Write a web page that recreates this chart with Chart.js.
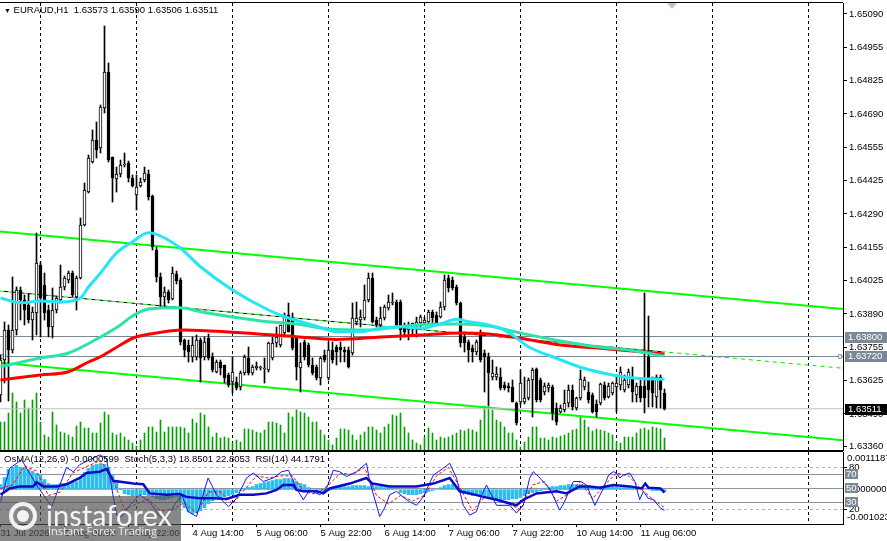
<!DOCTYPE html>
<html>
<head>
<meta charset="utf-8">
<script src="https://cdn.jsdelivr.net/npm/chart.js"></script>
<style>
  html, body { margin: 0; padding: 0; background: #fff; }
  #wrap { position: relative; width: 887px; height: 541px; overflow: hidden; font-family: 'Liberation Sans', Arial, sans-serif; }
  canvas { position: absolute; left: 0; }
  #main { top: 0; }
  #sub { top: 451px; }
  .hdr { position: absolute; font-size: 9.5px; color: #000; white-space: pre; }
  #shift { position: absolute; left: 667px; top: 3px; width: 0; height: 0; border-left: 5px solid transparent; border-right: 5px solid transparent; border-top: 6px solid #c4c4c4; }
  #wm { position: absolute; left: 0; top: 496px; width: 181px; height: 45px; background: rgba(80, 80, 80, 0.68); }
  #wm .ring { position: absolute; left: 9px; top: 6px; width: 20px; height: 20px; border: 4px solid #f2f2f2; border-radius: 50%; }
  #wm .dot { position: absolute; left: 17px; top: 14px; width: 12px; height: 12px; background: #f2f2f2; border-radius: 50%; }
  #wm .t1 { position: absolute; left: 46px; top: 4px; font-family: Lato, 'Open Sans', sans-serif; font-size: 29px; line-height: 29px; color: #f4f4f4; }
  #wm .t2 { position: absolute; left: 48px; top: 28px; font-family: 'Open Sans', sans-serif; font-size: 11px; line-height: 13px; color: #eeeeee; }
</style>
</head>
<body>
<div id="wrap">
  <canvas id="main" width="887" height="451"></canvas>
  <canvas id="sub" width="887" height="90"></canvas>
  <div class="hdr" style="left:4px; top:4px;"><span style="font-size:7px;">&#9660;</span> EURAUD,H1  1.63573 1.63590 1.63506 1.63511</div>
  <div class="hdr" style="left:4px; top:453px;">OsMA(12,26,9) -0.0000599  Stoch(5,3,3) 18.8501 22.8053  RSI(14) 44.1791</div>
  <div id="shift"></div>
  <div id="wm">
    <div class="ring"></div><div class="dot"></div>
    <div class="t1">instaforex</div>
    <div class="t2">Instant Forex Trading</div>
  </div>
</div>
<script>
// EURAUD H1 bars, 31 Jul 14:00 .. 11 Aug 12:00 (bar index = position in the arrays)
const open = [
  1.63566, 1.63706, 1.63826, 1.63746, 1.63826, 1.63986, 1.63946, 1.63926, 1.63866, 1.63894,
  1.64086, 1.64006, 1.63906, 1.63838, 1.63906, 1.63946, 1.63998, 1.64026, 1.64054, 1.63958,
  1.64034, 1.64246, 1.64378, 1.64498, 1.64586, 1.64554, 1.64714, 1.64858, 1.64518, 1.64430,
  1.64450, 1.64486, 1.64494, 1.64434, 1.64366, 1.64402, 1.64426, 1.64450, 1.64362, 1.64146,
  1.64038, 1.63958, 1.63978, 1.63950, 1.64050, 1.64026, 1.63786, 1.63766, 1.63718, 1.63718,
  1.63786, 1.63718, 1.63794, 1.63718, 1.63658, 1.63698, 1.63686, 1.63646, 1.63618, 1.63618,
  1.63598, 1.63654, 1.63714, 1.63654, 1.63674, 1.63674, 1.63670, 1.63666, 1.63714, 1.63774,
  1.63766, 1.63814, 1.63886, 1.63874, 1.63794, 1.63674, 1.63778, 1.63766, 1.63686, 1.63678,
  1.63634, 1.63726, 1.63634, 1.63746, 1.63758, 1.63758, 1.63746, 1.63746, 1.63734, 1.63858,
  1.63866, 1.63874, 1.63946, 1.64034, 1.63866, 1.63846, 1.63874, 1.63914, 1.63934, 1.63938,
  1.63938, 1.63838, 1.63826, 1.63834, 1.63846, 1.63854, 1.63854, 1.63858, 1.63898, 1.63886,
  1.63878, 1.63918, 1.64034, 1.64026, 1.63998, 1.63934, 1.63798, 1.63778, 1.63754, 1.63738,
  1.63818, 1.63734, 1.63718, 1.63638, 1.63638, 1.63638, 1.63606, 1.63602, 1.63598, 1.63534,
  1.63538, 1.63538, 1.63554, 1.63626, 1.63670, 1.63626, 1.63578, 1.63594, 1.63598, 1.63514,
  1.63498, 1.63506, 1.63534, 1.63586, 1.63514, 1.63554, 1.63598, 1.63578, 1.63566, 1.63530,
  1.63534, 1.63606, 1.63558, 1.63574, 1.63598, 1.63606, 1.63586, 1.63606, 1.63630, 1.63566,
  1.63602, 1.63602, 1.63718, 1.63626, 1.63558, 1.63638, 1.63573
];
const high = [
  1.63726, 1.63858, 1.63846, 1.64038, 1.63998, 1.63998, 1.63966, 1.63970, 1.63918, 1.64214,
  1.64098, 1.64054, 1.63926, 1.63994, 1.63962, 1.64086, 1.64042, 1.64062, 1.64062, 1.64042,
  1.64274, 1.64414, 1.64526, 1.64626, 1.64658, 1.64726, 1.65042, 1.64894, 1.64518, 1.64478,
  1.64506, 1.64534, 1.64502, 1.64446, 1.64446, 1.64434, 1.64478, 1.64466, 1.64366, 1.64158,
  1.64054, 1.63998, 1.63986, 1.64078, 1.64062, 1.64034, 1.63790, 1.63786, 1.63798, 1.63806,
  1.63794, 1.63798, 1.63810, 1.63734, 1.63706, 1.63706, 1.63686, 1.63654, 1.63718, 1.63638,
  1.63662, 1.63726, 1.63758, 1.63686, 1.63698, 1.63682, 1.63714, 1.63778, 1.63798, 1.63838,
  1.63846, 1.63894, 1.63934, 1.63894, 1.63798, 1.63774, 1.63786, 1.63774, 1.63714, 1.63686,
  1.63718, 1.63746, 1.63778, 1.63778, 1.63766, 1.63778, 1.63758, 1.63758, 1.63934, 1.63938,
  1.63906, 1.64006, 1.64054, 1.64054, 1.63878, 1.63918, 1.63926, 1.63966, 1.63974, 1.63946,
  1.63946, 1.63854, 1.63858, 1.63854, 1.63878, 1.63886, 1.63878, 1.63906, 1.63906, 1.63898,
  1.63938, 1.64046, 1.64046, 1.64038, 1.64006, 1.63938, 1.63818, 1.63786, 1.63766, 1.63786,
  1.63826, 1.63746, 1.63734, 1.63706, 1.63678, 1.63674, 1.63618, 1.63614, 1.63626, 1.63538,
  1.63666, 1.63638, 1.63634, 1.63674, 1.63674, 1.63634, 1.63614, 1.63614, 1.63606, 1.63534,
  1.63526, 1.63586, 1.63606, 1.63606, 1.63558, 1.63666, 1.63638, 1.63618, 1.63574, 1.63546,
  1.63614, 1.63618, 1.63614, 1.63618, 1.63646, 1.63678, 1.63646, 1.63670, 1.63678, 1.63614,
  1.63626, 1.63974, 1.63882, 1.63638, 1.63646, 1.63646, 1.63590
];
const low = [
  1.63538, 1.63614, 1.63542, 1.63734, 1.63806, 1.63866, 1.63846, 1.63854, 1.63786, 1.63806,
  1.63798, 1.63866, 1.63798, 1.63794, 1.63894, 1.63934, 1.63986, 1.64014, 1.63958, 1.63906,
  1.64030, 1.64242, 1.64374, 1.64494, 1.64514, 1.64534, 1.64694, 1.64498, 1.64338, 1.64378,
  1.64438, 1.64478, 1.64418, 1.64398, 1.64306, 1.64398, 1.64418, 1.64346, 1.64146, 1.64018,
  1.63918, 1.63918, 1.63934, 1.63946, 1.64010, 1.63766, 1.63718, 1.63698, 1.63698, 1.63706,
  1.63618, 1.63706, 1.63706, 1.63658, 1.63654, 1.63646, 1.63614, 1.63598, 1.63574, 1.63586,
  1.63586, 1.63646, 1.63646, 1.63646, 1.63666, 1.63666, 1.63614, 1.63658, 1.63706, 1.63758,
  1.63758, 1.63798, 1.63818, 1.63746, 1.63626, 1.63578, 1.63706, 1.63678, 1.63646, 1.63626,
  1.63606, 1.63698, 1.63626, 1.63694, 1.63686, 1.63698, 1.63698, 1.63674, 1.63726, 1.63846,
  1.63838, 1.63866, 1.63938, 1.63854, 1.63838, 1.63838, 1.63866, 1.63906, 1.63926, 1.63838,
  1.63786, 1.63798, 1.63786, 1.63806, 1.63798, 1.63838, 1.63846, 1.63854, 1.63854, 1.63846,
  1.63874, 1.63906, 1.63978, 1.63986, 1.63926, 1.63758, 1.63738, 1.63698, 1.63698, 1.63726,
  1.63698, 1.63578, 1.63526, 1.63626, 1.63626, 1.63586, 1.63586, 1.63578, 1.63538, 1.63446,
  1.63526, 1.63530, 1.63546, 1.63478, 1.63538, 1.63538, 1.63566, 1.63578, 1.63466, 1.63446,
  1.63494, 1.63498, 1.63518, 1.63506, 1.63506, 1.63546, 1.63586, 1.63534, 1.63494, 1.63478,
  1.63526, 1.63546, 1.63554, 1.63566, 1.63498, 1.63586, 1.63578, 1.63594, 1.63538, 1.63538,
  1.63538, 1.63494, 1.63518, 1.63518, 1.63514, 1.63514, 1.63506
];
const close = [
  1.63706, 1.63826, 1.63746, 1.63826, 1.63986, 1.63946, 1.63906, 1.63866, 1.63898, 1.64094,
  1.63954, 1.63894, 1.63838, 1.63906, 1.63954, 1.63998, 1.64034, 1.64054, 1.63966, 1.64034,
  1.64246, 1.64386, 1.64514, 1.64586, 1.64546, 1.64718, 1.64858, 1.64506, 1.64434, 1.64450,
  1.64486, 1.64486, 1.64434, 1.64402, 1.64398, 1.64418, 1.64454, 1.64358, 1.64158, 1.64038,
  1.63958, 1.63978, 1.63946, 1.64054, 1.64022, 1.63778, 1.63746, 1.63738, 1.63766, 1.63786,
  1.63714, 1.63778, 1.63714, 1.63666, 1.63698, 1.63674, 1.63634, 1.63606, 1.63658, 1.63594,
  1.63654, 1.63718, 1.63654, 1.63678, 1.63682, 1.63674, 1.63670, 1.63774, 1.63774, 1.63798,
  1.63846, 1.63886, 1.63818, 1.63754, 1.63678, 1.63698, 1.63718, 1.63686, 1.63654, 1.63634,
  1.63714, 1.63706, 1.63746, 1.63706, 1.63738, 1.63746, 1.63738, 1.63678, 1.63874, 1.63874,
  1.63878, 1.63946, 1.64034, 1.63858, 1.63846, 1.63874, 1.63918, 1.63938, 1.63938, 1.63846,
  1.63826, 1.63818, 1.63838, 1.63854, 1.63858, 1.63878, 1.63866, 1.63898, 1.63874, 1.63854,
  1.63918, 1.64026, 1.63994, 1.63994, 1.63934, 1.63774, 1.63774, 1.63746, 1.63738, 1.63778,
  1.63706, 1.63718, 1.63654, 1.63654, 1.63650, 1.63594, 1.63594, 1.63594, 1.63538, 1.63454,
  1.63614, 1.63554, 1.63626, 1.63666, 1.63546, 1.63546, 1.63602, 1.63606, 1.63494, 1.63458,
  1.63514, 1.63534, 1.63586, 1.63518, 1.63554, 1.63630, 1.63626, 1.63546, 1.63498, 1.63498,
  1.63610, 1.63554, 1.63602, 1.63614, 1.63614, 1.63658, 1.63626, 1.63658, 1.63578, 1.63602,
  1.63554, 1.63554, 1.63586, 1.63574, 1.63638, 1.63586, 1.63511
];
const volume = [
  28, 28, 37, 57, 48, 37, 50, 42, 50, 57, 28, 15, 13, 38, 25, 18, 17, 15, 13, 24,
  28, 22, 22, 17, 17, 27, 38, 35, 17, 15, 17, 13, 10, 7, 4, 10, 17, 23, 23, 18,
  30, 18, 23, 23, 23, 23, 22, 17, 31, 27, 37, 35, 23, 13, 17, 12, 13, 12, 7, 10,
  8, 21, 21, 20, 18, 17, 20, 28, 28, 27, 25, 17, 37, 33, 40, 38, 37, 33, 28, 28,
  20, 15, 10, 5, 12, 21, 21, 20, 15, 10, 15, 18, 23, 23, 20, 17, 23, 26, 35, 34,
  37, 23, 17, 10, 7, 5, 13, 22, 17, 10, 13, 12, 13, 15, 17, 20, 19, 21, 20, 18,
  30, 44, 45, 40, 30, 28, 23, 17, 17, 10, 3, 8, 13, 23, 23, 12, 12, 10, 13, 12,
  14, 15, 17, 20, 21, 33, 30, 23, 19, 21, 20, 19, 17, 15, 8, 7, 13, 13, 13, 17,
  21, 22, 20, 23, 22, 21, 12
];
const osma = [
  0.00015, 0.00036, 0.0006,
  0.00066, 0.00072, 0.00066, 0.00066, 0.0006, 0.00054, 0.00048,
  0.00045, 0.0003, 0.00018,
  0.00015, 0.00015, 0.00018, 0.00018, 0.00021, 0.00021, 0.00024,
  0.00036, 0.00051, 0.00063, 0.00072, 0.00075, 0.00078, 0.00075, 0.00066,
  0.00042, 0.00021, 0.00003,
  -0.00012, -0.00015, -0.00018, -0.00018, -0.00015, -0.00015, -0.00018, -0.00021,
  -0.00027, -0.0003, -0.0003, -0.00027, -0.00024, -0.00021,
  -0.00036, -0.00054, -0.00066, -0.00072, -0.00069, -0.00063,
  -0.00054, -0.00042, -0.00033, -0.00027, -0.00024, -0.00021, -0.00018, -0.00015,
  -0.00009, -0.00003, 0.00003, 0.00006, 0.00009,
  0.00015, 0.00018, 0.00021, 0.00024, 0.00027, 0.0003, 0.0003, 0.00033, 0.00033,
  0.0003, 0.00024, 0.00018, 0.00015,
  0.00006, 0, -0.00003, -0.00006, -0.00006, -0.00003,
  0.00006, 0.00009, 0.00009, 0.00009, 0.00009, 0.00012, 0.00012, 0.00012, 0.00012, 0.00009,
  0.00012, 0.00009, 0.00009, 0.00006, 0.00006, 0.00003, 0,
  -0.00009, -0.00012, -0.00015, -0.00015, -0.00015, -0.00012, -0.00009, -0.00006,
  -0.00003, 0, 0.00006,
  0.00012, 0.00015, 0.00015, 0.00009,
  -0.00006, -0.00012, -0.00015, -0.00018, -0.00018, -0.00021, -0.00024, -0.00024,
  -0.00027, -0.00027, -0.0003, -0.0003, -0.0003, -0.00027, -0.00027, -0.00024,
  -0.00018, -0.00012, -0.00009, -0.00006, -0.00003,
  0.00003, 0.00006, 0.00009, 0.00009, 0.00012, 0.00012, 0.00015, 0.00015, 0.00015, 0.00015, 0.00012,
  0.00012, 0.00009, 0.00009, 0.00009, 0.00009, 0.00009, 0.00009, 0.00009, 0.00006,
  0.00006, 0.00006, 0.00006, 0.00003, 0.00003, 0, 0, -0.00003, -0.00003, -0.00003, -0.0000599
];

// moving averages, [bar, price]
const maRed = [[0,1.63626],[10,1.63646],[17,1.63659],[22,1.63698],[25,1.63719],[30,1.63766],[33,1.63793],[37,1.63809],[46,1.63826],[58,1.63817],[74,1.63799],[84,1.63788],[95,1.63798],[105,1.63806],[115,1.63814],[122,1.63810],[130,1.63793],[140,1.63766],[150,1.63753],[160,1.63739],[166,1.63730]];
const maTeal = [[0,1.63679],[10,1.63714],[17,1.63734],[25,1.63798],[30,1.63846],[33,1.63882],[37,1.63910],[45,1.63915],[50,1.63899],[58,1.63878],[67,1.63859],[74,1.63850],[82,1.63830],[92,1.63826],[100,1.63839],[107,1.63849],[115,1.63850],[122,1.63842],[130,1.63814],[140,1.63782],[149,1.63759],[157,1.63746],[166,1.63722]];
const maCyan = [[0,1.63954],[5,1.63935],[10,1.63942],[15,1.63938],[20,1.63954],[22,1.63998],[25,1.64054],[29,1.64134],[33,1.64179],[37,1.64215],[40,1.64202],[45,1.64153],[50,1.64079],[58,1.63986],[67,1.63906],[72,1.63874],[78,1.63846],[84,1.63819],[90,1.63819],[95,1.63833],[100,1.63839],[105,1.63833],[110,1.63850],[114,1.63869],[117,1.63859],[122,1.63846],[125,1.63833],[128,1.63806],[132,1.63759],[139,1.63713],[145,1.63677],[153,1.63646],[159,1.63633],[166,1.63629]];

// channel lines: price at left edge / right edge of the chart
const channelEnds = [-0.125, 210.625];
const channelUpper = [1.64220, 1.63910];
const channelMid = [1.63982, 1.63673];
const channelLower = [1.63695, 1.63385];
const channelMidBlack = [[-0.125, 1.63982], [166, 1.63738]];
const levelPrices = [1.63800, 1.63720];

// oscillators, [bar, value]
const stochMain = [[0,31],[2.3,79],[5.3,91],[6.5,79],[9,55],[10.7,41],[12.8,24],[16.5,80],[18.2,74],[19.8,84],[24.8,98],[26.5,93],[29,12],[30.3,10],[32.3,26],[34.8,41],[37.3,31],[39.8,10],[41.5,7],[44,31],[45.3,41],[46.9,17],[49,10],[51.9,65],[54,41],[57,24],[59,36],[61.5,65],[63.2,72],[65.7,60],[68.2,65],[70.3,74],[72,76],[74,50],[75.7,34],[77.3,48],[79.8,41],[81.5,50],[83.2,76],[84.8,74],[86.5,67],[89,74],[91.5,86],[92.3,60],[94.8,10],[96,22],[97.3,41],[99,46],[101,36],[102.3,31],[104,26],[105.7,38],[108.2,69],[110.7,79],[112.3,86],[114,65],[115.7,26],[117.3,12],[119,17],[120.3,41],[121.5,55],[124,26],[127.3,26],[129,15],[130.7,26],[132.3,65],[133.2,74],[134.5,67],[137.3,50],[139.8,19],[141,31],[143.2,60],[145,60],[146.5,55],[148.6,26],[150.7,50],[152,69],[153.2,74],[154,72],[154.8,65],[155.7,69],[157.3,72],[158.6,60],[159.8,34],[160.7,46],[161.9,36],[163.2,34],[164.4,26],[165,22],[166,18.85]];
const stochSignal = [[0,50],[3,55],[6,82],[9,75],[12,40],[15,45],[18,72],[21,80],[25,90],[28,65],[31,20],[34,28],[37,35],[40,18],[43,20],[46,30],[49,15],[52,45],[55,45],[58,28],[61,48],[64,68],[67,65],[70,68],[73,68],[76,45],[79,42],[82,55],[85,72],[88,70],[91,80],[94,40],[97,28],[100,40],[103,32],[106,40],[109,68],[112,80],[115,50],[118,18],[121,38],[124,35],[127,28],[130,20],[133,55],[136,60],[139,32],[142,42],[145,60],[148,35],[151,55],[154,72],[157,68],[160,50],[163,35],[166,22.81]];
const rsi = [[0,41],[2.3,50],[4.8,53],[8.2,53],[9,59],[10.7,53],[14,53],[16.5,56],[19.8,65],[21.5,72],[24.8,74],[26.5,78],[28.2,61],[33.2,57],[35.7,56],[37.3,43],[41.5,41],[44.8,42],[46.5,38],[49.8,36],[53.2,36],[56.5,35],[59.8,41],[63.2,41],[66.5,43],[69,48],[70.7,55],[73.2,55],[74,48],[75.7,46],[79,46],[80.7,43],[82.3,50],[87.3,57],[91.5,65],[93,57],[97.3,53],[104,53],[108.2,57],[112.3,65],[114.8,46],[117.3,43],[120.7,38],[124,34],[129,26],[130.7,34],[134,43],[139,46],[141.5,43],[144.8,53],[147.3,53],[149.8,51],[153.2,55],[157.3,53],[160.3,50],[161.2,57],[162,51],[165,50],[166,44.18]];
const oscLevels = [80, 70, 50, 30, 20];
const osmaMax = 0.0011187, osmaMin = -0.001023;

// axes
const xMin = -0.125, xMax = 210.625;
const dayBars = [10, 34, 58, 82, 106, 130, 154, 178, 202];
const labelBars = [0, 16, 32, 48, 64, 80, 96, 112, 128, 144, 160];
const labelTexts = ['31 Jul 2026', '3 Aug 06:00', '3 Aug 22:00', '4 Aug 14:00', '5 Aug 06:00', '5 Aug 22:00',
  '6 Aug 14:00', '7 Aug 06:00', '7 Aug 22:00', '10 Aug 14:00', '11 Aug 06:00'];
const priceTicks = [1.65090, 1.64955, 1.64825, 1.64690, 1.64555, 1.64425, 1.64290, 1.64155,
  1.64025, 1.63890, 1.63755, 1.63625, 1.63490, 1.63360];
const priceMin = 1.63346, priceMax = 1.65134;

Chart.defaults.font.family = "'Liberation Sans', Arial, sans-serif";
Chart.defaults.font.size = 9.5;
Chart.defaults.color = '#000';

const FONT = "9.5px 'Liberation Sans', Arial, sans-serif";
const noPad = s => { s.paddingTop = 0; s.paddingBottom = 0; s.paddingLeft = 0; s.paddingRight = 0; };
const pts = arr => arr.map(([x, y]) => ({ x, y }));
const edgeLine = vals => channelEnds.map((x, k) => ({ x, y: vals[k] }));

// top and bottom border of the plot area
const frame = {
  id: 'frame',
  afterDraw(c) {
    const { ctx, chartArea: a } = c;
    ctx.save();
    ctx.strokeStyle = '#000';
    ctx.lineWidth = 1;
    ctx.beginPath();
    ctx.moveTo(0, Math.round(a.top) - 0.5); ctx.lineTo(a.right, Math.round(a.top) - 0.5);
    ctx.moveTo(0, Math.round(a.bottom) + 0.5); ctx.lineTo(a.right + 1, Math.round(a.bottom) + 0.5);
    ctx.stroke();
    ctx.restore();
  }
};

// price tags on the right axis for the two level lines and the bid
const priceTags = {
  id: 'priceTags',
  afterDraw(c) {
    const { ctx, chartArea: a, scales } = c;
    const y = scales.y;
    const tags = [[levelPrices[0], '#7c8896'], [levelPrices[1], '#7c8896'], [close[close.length - 1], '#000']];
    ctx.save();
    ctx.font = FONT;
    ctx.textBaseline = 'middle';
    tags.forEach(([v, bg]) => {
      const py = Math.round(y.getPixelForValue(v));
      ctx.fillStyle = bg;
      ctx.fillRect(a.right + 2, py - 5, c.width - a.right - 2, 11);
      ctx.fillStyle = '#fff';
      ctx.fillText(v.toFixed(5), a.right + 5, py + 0.5);
    });
    ctx.restore();
  }
};

const mainChart = new Chart(document.getElementById('main'), {
  type: 'bar',
  data: {
    datasets: [
      { type: 'bar', label: 'volume', data: volume.map((v, i) => ({ x: i, y: v })), yAxisID: 'yv',
        backgroundColor: '#00a400', barThickness: 1, grouped: false, order: 20 },
      { type: 'line', data: edgeLine(channelUpper), borderColor: '#00ff00', borderWidth: 2, pointRadius: 0, order: 15 },
      { type: 'line', data: edgeLine(channelLower), borderColor: '#00ff00', borderWidth: 2, pointRadius: 0, order: 15 },
      { type: 'line', data: pts(channelMidBlack), borderColor: '#000', borderWidth: 1, borderDash: [4, 4], borderDashOffset: 4, pointRadius: 0, order: 15 },
      { type: 'line', data: edgeLine(channelMid), borderColor: '#00e600', borderWidth: 1, borderDash: [4, 4], pointRadius: 0, order: 14 },
      { type: 'line', data: channelEnds.map(x => ({ x, y: levelPrices[0] })), borderColor: '#778899', borderWidth: 1, pointRadius: 0, order: 12 },
      { type: 'line', data: channelEnds.map(x => ({ x, y: levelPrices[1] })), borderColor: '#778899', borderWidth: 1, pointRadius: 0, order: 12 },
      { type: 'line', data: channelEnds.map(x => ({ x, y: close[close.length - 1] })), borderColor: '#c0c0c0', borderWidth: 1, pointRadius: 0, order: 13 },
      { type: 'line', data: [{ x: 0.4, y: levelPrices[1] }, { x: 209.9, y: levelPrices[1] }], showLine: false,
        pointStyle: 'rect', pointRadius: 2.5, pointBackgroundColor: '#fff', pointBorderColor: '#778899', pointBorderWidth: 1, order: 11 },
      { type: 'bar', label: 'wick', data: low.map((l, i) => ({ x: i, y: [l, high[i]] })),
        backgroundColor: '#000', barThickness: 1, grouped: false, order: 7 },
      { type: 'bar', label: 'body', data: open.map((o, i) => ({ x: i, y: [o, close[i]] })),
        backgroundColor: open.map((o, i) => close[i] >= o ? '#fff' : '#000'),
        borderColor: '#000', borderWidth: 1, borderSkipped: false, minBarLength: 1,
        barThickness: 3, grouped: false, order: 6 },
      { type: 'line', data: pts(maRed), borderColor: '#ff0000', borderWidth: 3, pointRadius: 0, cubicInterpolationMode: 'monotone', order: 3 },
      { type: 'line', data: pts(maTeal), borderColor: '#2ee3a9', borderWidth: 3, pointRadius: 0, cubicInterpolationMode: 'monotone', order: 2 },
      { type: 'line', data: pts(maCyan), borderColor: '#24e6f4', borderWidth: 3, pointRadius: 0, cubicInterpolationMode: 'monotone', order: 1 }
    ]
  },
  options: {
    responsive: false,
    animation: false,
    devicePixelRatio: 1,
    events: [],
    layout: { autoPadding: false, padding: { top: 3, bottom: 1, left: 0, right: 0 } },
    plugins: { legend: { display: false }, tooltip: { enabled: false } },
    scales: {
      x: {
        type: 'linear', min: xMin, max: xMax, offset: false,
        afterBuildTicks: s => { s.ticks = dayBars.map(v => ({ value: v })); },
        afterFit: s => { s.height = 0; noPad(s); },
        ticks: { display: false },
        grid: { color: '#000', drawTicks: false, offset: false },
        border: { display: false, dash: [3, 3] }
      },
      y: {
        position: 'right', min: priceMin, max: priceMax,
        afterBuildTicks: s => { s.ticks = priceTicks.map(v => ({ value: v })); },
        afterFit: s => { s.width = 44; noPad(s); },
        ticks: { callback: v => v.toFixed(5), padding: 2, color: '#000' },
        grid: { drawOnChartArea: false, tickLength: 4, color: '#000' },
        border: { display: true, color: '#000' }
      },
      yv: { display: false, min: 0, max: 447 }
    }
  },
  plugins: [frame, priceTags]
});

// right labels of the oscillator window
const oscTags = {
  id: 'oscTags',
  afterDraw(c) {
    const { ctx, chartArea: a, scales } = c;
    ctx.save();
    ctx.font = FONT;
    ctx.textBaseline = 'middle';
    ctx.fillStyle = '#000';
    ctx.fillText(String(osmaMax), a.right + 4, a.top + 6);
    ctx.fillText((0).toFixed(6), a.right + 4, scales.yo.getPixelForValue(0));
    ctx.fillText(String(osmaMin), a.right + 4, a.bottom - 7);
    [70, 50, 30].forEach(v => {
      const py = Math.round(scales.ys.getPixelForValue(v));
      ctx.fillStyle = '#7c8896';
      ctx.fillRect(a.right + 2, py - 5, 13, 10);
      ctx.fillStyle = '#fff';
      ctx.fillText(String(v), a.right + 3, py + 0.5);
    });
    ctx.restore();
  }
};

const levelSet = oscLevels.map(v => {
  const dashed = v === 80 || v === 20;
  return { type: 'line', yAxisID: 'ys', data: channelEnds.map(x => ({ x, y: v })),
    borderColor: dashed ? '#b4b4b4' : '#8793a0', borderWidth: 1, borderDash: dashed ? [3, 3] : [],
    pointRadius: 0, order: 10 };
});

const subChart = new Chart(document.getElementById('sub'), {
  type: 'bar',
  data: {
    datasets: [
      ...levelSet,
      { type: 'bar', yAxisID: 'yo', data: osma.map((v, i) => ({ x: i, y: v })),
        backgroundColor: '#2fbdf0', barThickness: 3, grouped: false, order: 8 },
      { type: 'line', yAxisID: 'ys', data: pts(stochSignal), borderColor: '#ff0000', borderWidth: 1, borderDash: [3, 2], pointRadius: 0, order: 4 },
      { type: 'line', yAxisID: 'ys', data: pts(stochMain), borderColor: '#1515ff', borderWidth: 1, pointRadius: 0, order: 3 },
      { type: 'line', yAxisID: 'ys', data: pts(rsi), borderColor: '#0c0cc8', borderWidth: 2.5, pointRadius: 0, order: 2 }
    ]
  },
  options: {
    responsive: false,
    animation: false,
    devicePixelRatio: 1,
    events: [],
    layout: { autoPadding: false, padding: { top: 1, bottom: 0, left: 0, right: 0 } },
    plugins: { legend: { display: false }, tooltip: { enabled: false } },
    scales: {
      x: {
        type: 'linear', position: 'bottom', min: xMin, max: xMax, offset: false,
        afterBuildTicks: s => { s.ticks = labelBars.map(v => ({ value: v })); },
        afterFit: s => { s.height = 17; noPad(s); },
        ticks: { callback: (v, i) => labelTexts[i], align: 'start', autoSkip: false, maxRotation: 0, padding: 1, color: '#000' },
        grid: { drawOnChartArea: false, tickLength: 3, color: '#000', offset: false },
        border: { display: false }
      },
      x2: {
        type: 'linear', position: 'top', min: xMin, max: xMax, offset: false,
        afterBuildTicks: s => { s.ticks = dayBars.map(v => ({ value: v })); },
        afterFit: s => { s.height = 0; noPad(s); },
        ticks: { display: false },
        grid: { color: '#000', drawTicks: false, offset: false },
        border: { display: false, dash: [3, 3] }
      },
      ys: {
        position: 'right', min: -0.7, max: 102.1,
        afterBuildTicks: s => { s.ticks = [{ value: 80 }, { value: 20 }]; },
        afterFit: s => { s.width = 44; noPad(s); },
        ticks: { callback: v => String(v), padding: 2, color: '#000' },
        grid: { drawOnChartArea: false, tickLength: 4, color: '#000' },
        border: { display: true, color: '#000' }
      },
      yo: { display: false, min: osmaMin, max: osmaMax }
    }
  },
  plugins: [frame, oscTags]
});
</script>
</body>
</html>
